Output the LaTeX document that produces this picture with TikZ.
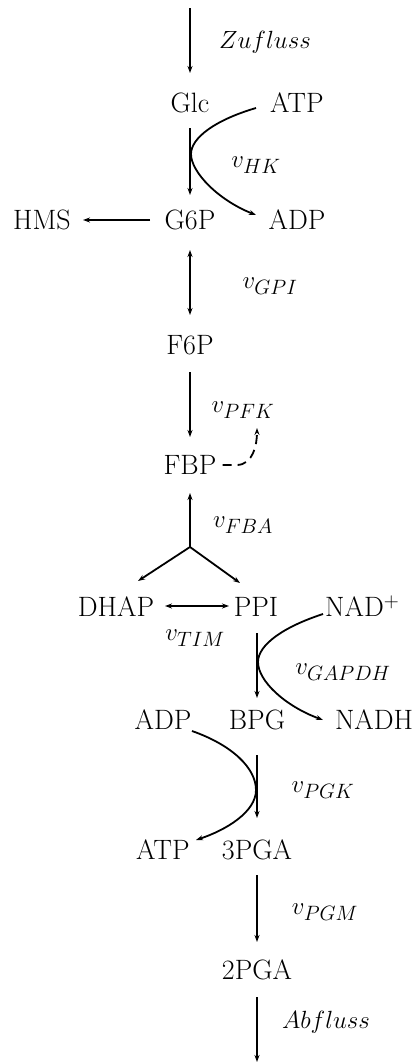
\documentclass[tikz,border=0pt]{standalone}
\usepackage{fontspec}
\usetikzlibrary{arrows.meta}
\begin{document}
\begin{tikzpicture}[x=1pt,y=-1pt,
  met/.style={font=\fontsize{28}{33}\selectfont, inner sep=0pt, text height=19pt, text depth=0pt},
  lab/.style={font=\fontsize{28}{33}\selectfont, inner sep=0pt},
  ln/.style={line width=1.8pt},
  tip/.style={-{Stealth[length=7pt,width=5pt]}},
  both/.style={{Stealth[length=7pt,width=5pt]}-{Stealth[length=7pt,width=5pt]}}
]
\useasboundingbox (0,0) rectangle (416,1063);
% metabolites
\node[met] (glc)  at (190,103) {Glc};
\node[met] (atpa) at (297,103) {ATP};
\node[met] (g6p)  at (190,220) {G6P};
\node[met] (adpa) at (297,220) {ADP};
\node[met] (hms)  at (42,220)  {HMS};
\node[met] (f6p)  at (190,345) {F6P};
\node[met] (fbp)  at (190,465) {FBP};
\node[met] (dhap) at (116,607) {DHAP};
\node[met] (ppi)  at (256,607) {PPI};
\node[met,anchor=west] (nad) at (325,607) {NAD$^+$};
\node[met] (adpb) at (163,720) {ADP};
\node[met] (bpg)  at (257,720) {BPG};
\node[met] (nadh) at (374,720) {NADH};
\node[met] (atpb) at (163,850) {ATP};
\node[met] (pga3) at (257,850) {3PGA};
\node[met] (pga2) at (257,970) {2PGA};
% labels
\node[lab] (lzu)  at (265,42)  {$Zufluss$};
\node[lab] (lhk)  at (256,165) {$v_{HK}$};
\node[lab] (lgpi) at (270,286) {$v_{GPI}$};
\node[lab] (lpfk) at (243,410) {$v_{PFK}$};
\node[lab] (lfba) at (243,525) {$v_{FBA}$};
\node[lab] (ltim) at (195,638) {$v_{TIM}$};
\node[lab] (lgap) at (343,672) {$v_{GAPDH}$};
\node[lab] (lpgk) at (323,790) {$v_{PGK}$};
\node[lab] (lpgm) at (325,912) {$v_{PGM}$};
\node[lab] (lab)  at (326,1022) {$Abfluss$};
% coordinates
\coordinate (zin) at (190,8);
\coordinate (glct) at (190,73);
\coordinate (glcb) at (190,128);
\coordinate (g6pt) at (190,195);
\coordinate (hks) at (256,108);
\coordinate (hk) at (191,154);
\coordinate (hke) at (256,215);
\coordinate (hms1) at (150,220);
\coordinate (hms2) at (83,220);
\coordinate (g6pb) at (190,250);
\coordinate (f6pt) at (190,315);
\coordinate (f6pb) at (190,372);
\coordinate (fbpt) at (190,437);
\coordinate (fbpb) at (190,493);
\coordinate (br) at (190,547);
\coordinate (dhapt) at (138,581);
\coordinate (ppit) at (240,583);
\coordinate (tim1) at (165,606);
\coordinate (tim2) at (229,606);
\coordinate (ppib) at (257,633);
\coordinate (bpgt) at (257,698);
\coordinate (gaps) at (323,614);
\coordinate (gap) at (258,662);
\coordinate (gape) at (323,720);
\coordinate (bpgb) at (257,755);
\coordinate (pgat) at (257,818);
\coordinate (pgks) at (192,731);
\coordinate (pgk) at (256,790);
\coordinate (pgke) at (196,840);
\coordinate (pgab) at (257,875);
\coordinate (pga2t) at (257,942);
\coordinate (pga2b) at (257,997);
\coordinate (zout) at (257,1062);
\coordinate (pfk) at (257,428);
% arrows
\draw[ln,tip] (zin) -- (glct);
\draw[ln,tip] (glcb) -- (g6pt);
\draw[ln,tip] (hks) .. controls (215,120) and (191,138) .. (hk)
  .. controls (191,172) and (218,200) .. (hke);
\draw[ln,tip] (hms1) -- (hms2);
\draw[ln,both] (g6pb) -- (f6pt);
\draw[ln,tip] (f6pb) -- (fbpt);
\draw[ln,tip,dash pattern=on 9pt off 6pt] (fbp.east) ++(6,0) -- ++(14,0) to[out=0,in=-90] (pfk);
\draw[ln,tip] (br) -- (fbpb);
\draw[ln,tip] (br) -- (dhapt);
\draw[ln,tip] (br) -- (ppit);
\draw[ln,both] (tim1) -- (tim2);
\draw[ln,tip] (ppib) -- (bpgt);
\draw[ln,tip] (gaps) .. controls (283,627) and (258,645) .. (gap)
  .. controls (258,681) and (285,706) .. (gape);
\draw[ln,tip] (bpgb) -- (pgat);
\draw[ln,tip] (pgks) .. controls (232,745) and (256,768) .. (pgk)
  .. controls (256,812) and (226,830) .. (pgke);
\draw[ln,tip] (pgab) -- (pga2t);
\draw[ln,tip] (pga2b) -- (zout);
\end{tikzpicture}
\end{document}
